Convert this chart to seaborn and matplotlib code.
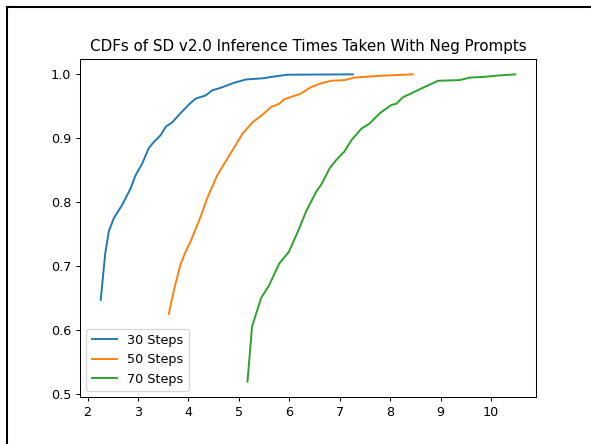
import matplotlib
matplotlib.use("Agg")
import matplotlib.pyplot as plt
from matplotlib.lines import Line2D
import seaborn as sns
import pandas as pd

labels = ["30 Steps", "50 Steps", "70 Steps"]

x30 = [2.26, 2.35, 2.42, 2.52, 2.68, 2.85, 2.95, 3.08, 3.21, 3.31, 3.45, 3.55, 3.68, 3.84, 4.01,
       4.14, 4.34, 4.47, 4.64, 4.91, 5.14, 5.50, 5.64, 5.97, 7.26]
y30 = [0.647, 0.720, 0.754, 0.775, 0.795, 0.821, 0.842, 0.860, 0.884, 0.894, 0.905, 0.918, 0.925, 0.939, 0.953,
       0.962, 0.967, 0.975, 0.979, 0.987, 0.992, 0.994, 0.996, 0.9995, 1.0]

x50 = [3.61, 3.71, 3.84, 3.94, 4.04, 4.24, 4.37, 4.57, 4.67, 4.91, 5.07, 5.27, 5.47, 5.64, 5.80, 5.90,
       6.23, 6.43, 6.63, 6.83, 7.09, 7.29, 7.86, 8.45]
y50 = [0.625, 0.662, 0.702, 0.722, 0.738, 0.777, 0.806, 0.842, 0.855, 0.886, 0.907, 0.925, 0.937, 0.949, 0.954, 0.961,
       0.970, 0.980, 0.986, 0.990, 0.991, 0.995, 0.998, 1.0]

x70 = [5.17, 5.26, 5.44, 5.60, 5.80, 5.99, 6.17, 6.33, 6.53, 6.63, 6.80, 6.93, 7.09, 7.23, 7.43, 7.59,
       7.79, 8.02, 8.12, 8.25, 8.62, 8.95, 9.38, 9.58, 9.85, 10.11, 10.48]
y70 = [0.519, 0.605, 0.650, 0.670, 0.704, 0.722, 0.754, 0.785, 0.816, 0.827, 0.853, 0.866, 0.879, 0.897, 0.915, 0.923,
       0.939, 0.952, 0.954, 0.964, 0.978, 0.990, 0.991, 0.995, 0.996, 0.998, 1.0]

df = pd.concat([
    pd.DataFrame({"time": x30, "cdf": y30, "series": labels[0]}),
    pd.DataFrame({"time": x50, "cdf": y50, "series": labels[1]}),
    pd.DataFrame({"time": x70, "cdf": y70, "series": labels[2]}),
], ignore_index=True)

W, H, DPI = 591, 444, 92
fig = plt.figure(figsize=(W / DPI, H / DPI), dpi=DPI)
ax = fig.add_axes([80 / W, 1 - 397 / H, (536 - 80) / W, (397 - 59) / H])
sns.lineplot(data=df, x="time", y="cdf", hue="series", palette=["#1f77b4", "#ff7f0e", "#2ca02c"],
             sort=False, estimator=None, ax=ax, linewidth=1.5)
ax.set_xlabel("")
ax.set_ylabel("")
ax.set_title("CDFs of SD v2.0 Inference Times Taken With Neg Prompts", fontsize=11.8)
ax.legend(loc="lower left", title=None)
ax.set_xticks([2, 3, 4, 5, 6, 7, 8, 9, 10])
ax.set_yticks([0.5, 0.6, 0.7, 0.8, 0.9, 1.0])

# screenshot frame on left and top
fig.add_artist(Line2D([7 / W, 7 / W], [0, 1 - 7 / H], transform=fig.transFigure, color="black", linewidth=1.6))
fig.add_artist(Line2D([7 / W, 1], [1 - 7 / H, 1 - 7 / H], transform=fig.transFigure, color="black", linewidth=1.6))

fig.savefig("out.png", dpi=DPI)
